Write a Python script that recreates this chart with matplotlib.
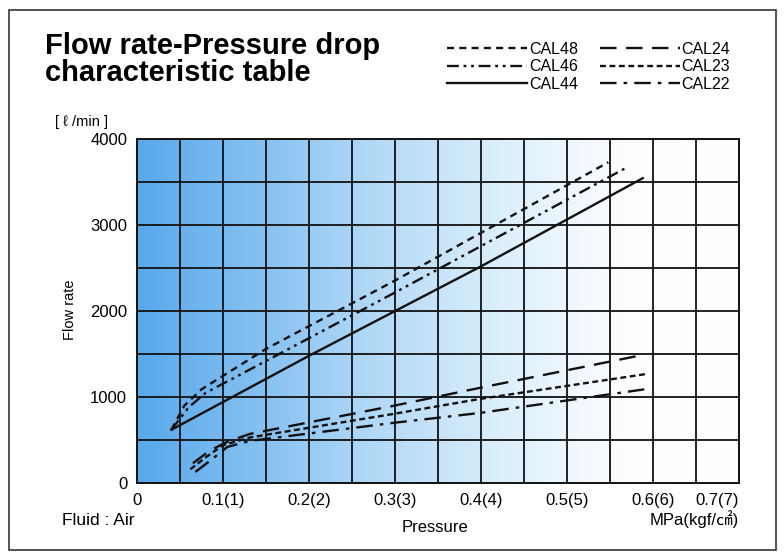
import matplotlib
matplotlib.use("Agg")
import matplotlib.pyplot as plt
import numpy as np
from matplotlib.colors import LinearSegmentedColormap

plt.rcParams['font.family'] = ['Liberation Sans', 'DejaVu Sans', 'Noto Sans CJK JP']

# pressure (MPa) / flow rate (l/min)
cal48_x = [0.040, 0.055, 0.075, 0.150, 0.300, 0.548]
cal48_y = [620, 900, 1090, 1560, 2355, 3730]
cal46_x = [0.040, 0.060, 0.080, 0.155, 0.300, 0.570]
cal46_y = [620, 880, 1050, 1446, 2216, 3673]
cal44_x = [0.040, 0.200, 0.400, 0.588]
cal44_y = [620, 1480, 2520, 3545]
cal24_x = [0.065, 0.085, 0.105, 0.131, 0.298, 0.399, 0.588]
cal24_y = [230, 380, 480, 571, 898, 1108, 1490]
cal23_x = [0.062, 0.080, 0.100, 0.131, 0.298, 0.399, 0.594]
cal23_y = [160, 300, 440, 530, 804, 979, 1271]
cal22_x = [0.068, 0.085, 0.105, 0.131, 0.298, 0.399, 0.594]
cal22_y = [130, 260, 420, 490, 700, 816, 1096]

names = ['CAL48', 'CAL46', 'CAL44', 'CAL24', 'CAL23', 'CAL22']
xs = [cal48_x, cal46_x, cal44_x, cal24_x, cal23_x, cal22_x]
ys = [cal48_y, cal46_y, cal44_y, cal24_y, cal23_y, cal22_y]
dashes = [(3, 2.2), (5, 2, 1.2, 2, 1.2, 2), None, (7, 4), (2.5, 1.5), (7, 3, 1.5, 3)]

xticks = [0, 0.1, 0.2, 0.3, 0.4, 0.5, 0.6, 0.7]
xlabels = ['0', '0.1(1)', '0.2(2)', '0.3(3)', '0.4(4)', '0.5(5)', '0.6(6)', '0.7(7)']
yticks = [0, 1000, 2000, 3000, 4000]

fig = plt.figure(figsize=(7.84, 5.54), dpi=100)
fig.patches.append(plt.Rectangle((0.0115, 0.008), 0.978, 0.974, transform=fig.transFigure,
                                 fill=False, edgecolor='#333333', linewidth=1.2))

ax = fig.add_axes([0.1747, 0.128, 0.768, 0.621])

# blue to white background
cmap = LinearSegmentedColormap.from_list('bg', ['#58a8ea', '#84c0f1', '#b4daf7', '#dbeefc', '#fbfdff', '#ffffff'])
grad = np.linspace(0, 1, 256).reshape(1, -1)
ax.imshow(grad, extent=[0, 0.7, 0, 4000], aspect='auto', cmap=cmap, zorder=0)

for v in np.arange(0.05, 0.7, 0.05):
    ax.axvline(v, color='#111111', lw=1.3, zorder=1)
for v in np.arange(500, 4000, 500):
    ax.axhline(v, color='#111111', lw=1.3, zorder=1)

for name, x, y, d in zip(names, xs, ys, dashes):
    line, = ax.plot(x, y, color='#111111', lw=1.7, label=name, zorder=3)
    if d is not None:
        line.set_dashes(d)

ax.set_xlim(0, 0.7)
ax.set_ylim(0, 4000)
ax.set_xticks(xticks)
ax.set_xticklabels(xlabels)
ax.set_yticks(yticks)
ax.tick_params(length=0, labelsize=12, pad=7)
ax.get_xticklabels()[-1].set_ha('right')
for s in ax.spines.values():
    s.set_linewidth(1.4)
    s.set_color('#111111')

fig.text(0.057, 0.843, 'Flow rate-Pressure drop\ncharacteristic table', fontsize=21,
         fontweight='bold', linespacing=0.95, va='bottom')
fig.text(0.07, 0.772, '[ ℓ /min ]', fontsize=10.5)
fig.text(0.089, 0.44, 'Flow rate', fontsize=10.5, rotation=90, ha='center', va='center')
fig.text(0.079, 0.052, 'Fluid : Air', fontsize=12.5)
fig.text(0.555, 0.04, 'Pressure', fontsize=12, ha='center')
fig.text(0.9426, 0.052, 'MPa(kgf/㎠)', fontsize=12, ha='right',
         family=['Liberation Sans', 'Noto Sans CJK JP'])

fig.legend(loc='upper right', bbox_to_anchor=(0.95, 0.95), ncol=2, frameon=False,
           fontsize=11.5, handlelength=5.0, handletextpad=0.1, columnspacing=1.4,
           labelspacing=0.15, markerfirst=True)

fig.savefig('out.png', dpi=100)
